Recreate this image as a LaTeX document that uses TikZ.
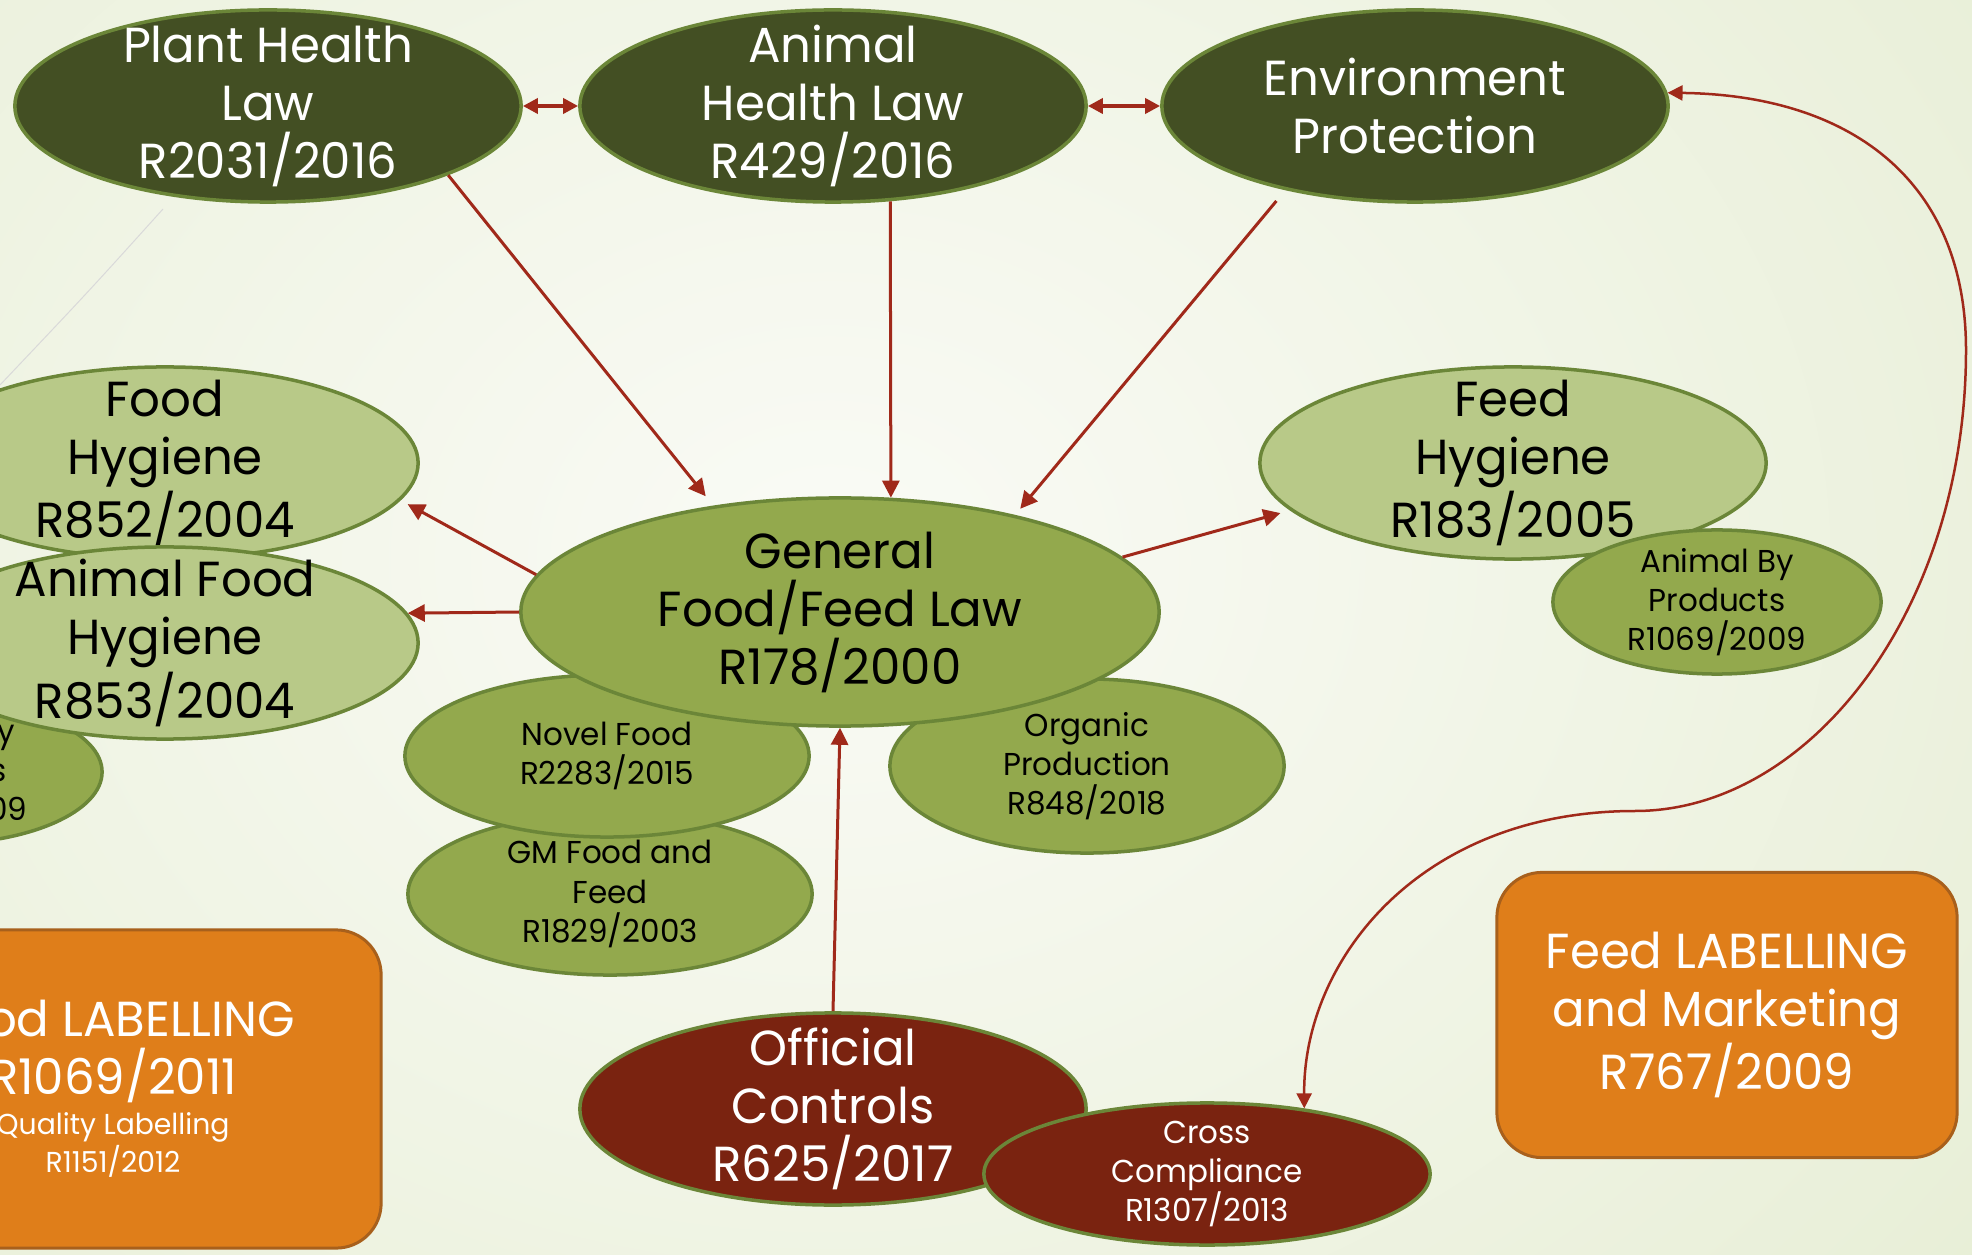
\documentclass[tikz,border=0pt]{standalone}
\usepackage{fontspec}
\setmainfont[FakeStretch=0.98]{Poppins}
\usetikzlibrary{shapes.geometric,arrows.meta}

\definecolor{olivedark}{HTML}{434F23}
\definecolor{lawgreen}{HTML}{93A94D}
\definecolor{palegreen}{HTML}{B8C988}
\definecolor{rimgreen}{HTML}{6B8638}
\definecolor{ctrlred}{HTML}{7A2310}
\definecolor{labelorange}{HTML}{DF7E1A}
\definecolor{labelrim}{HTML}{A8601C}
\definecolor{linkred}{HTML}{A0291A}
\definecolor{bgcentre}{HTML}{FAFBF6}
\definecolor{bgedge}{HTML}{E1EACB}

\newcommand{\bigtext}{\fontsize{14}{16.5}\selectfont}
\newcommand{\smalltext}{\fontsize{9}{11.1}\selectfont}
\newcommand{\tinytext}{\fontsize{8.2}{10.8}\selectfont}

\tikzset{
  law/.style={ellipse, draw=rimgreen, line width=0.035cm, inner sep=0pt,
    minimum width=5.06cm, minimum height=1.92cm},
  toplaw/.style={law, fill=olivedark},
  hygiene/.style={law, fill=palegreen},
  sublaw/.style={law, fill=lawgreen},
  ctrl/.style={law, fill=ctrlred},
  wbig/.style={text=white, align=center, font=\bigtext},
  bbig/.style={text=black, align=center, font=\bigtext},
  bsmall/.style={text=black, align=center, font=\smalltext},
  wsmall/.style={text=white, align=center, font=\smalltext},
  labelbox/.style={rectangle, draw=labelrim, fill=labelorange, line width=0.03cm,
    rounded corners=0.45cm, text=white, align=center, font=\bigtext},
  link/.style={draw=linkred, line width=0.03cm,
    -{Triangle[length=0.17cm,width=0.17cm]}},
  twoway/.style={draw=linkred, line width=0.04cm,
    {Triangle[length=0.15cm,width=0.15cm]}-{Triangle[length=0.15cm,width=0.15cm]}}
}

\begin{document}
\begin{tikzpicture}[x=0.01cm,y=-0.01cm]
  \useasboundingbox (0,0) rectangle (1972,1255);
  \clip (0,0) rectangle (1972,1255);

  % slide background
  \shade[inner color=bgcentre, outer color=bgedge] (-1170,-1040) rectangle (2830,2160);
  \draw[gray!30, line width=0.01cm] (163,209) .. controls (90,290) .. (0,385);

  % top row
  \node[toplaw, label={[wbig]center:Plant Health\\Law\\R2031/2016}] (plant) at (268,106) {};
  \node[toplaw, label={[wbig]center:Animal\\Health Law\\R429/2016}] (animal) at (833,106) {};
  \node[toplaw, label={[wbig]center:Environment\\Protection}] (env) at (1415,106) {};

  % left side
  \node[sublaw, minimum width=3.28cm, minimum height=1.44cm,
    label={[bsmall]center:Animal By\\Products\\R1069/2009}] (abpleft) at (-62,772) {};
  \node[hygiene, label={[bbig]center:Food\\Hygiene\\R852/2004}] (fhyg) at (165,463) {};
  \node[hygiene, label={[bbig]center:Animal Food\\Hygiene\\R853/2004}] (afhyg) at (165,643) {};

  % right side
  \node[hygiene, label={[bbig]center:Feed\\Hygiene\\R183/2005}] (feedhyg) at (1513,463) {};
  \node[sublaw, minimum width=3.28cm, minimum height=1.44cm,
    label={[bsmall]center:Animal By\\Products\\R1069/2009}] (abp) at (1717,602) {};

  % centre
  \node[sublaw, minimum width=4.04cm, minimum height=1.62cm,
    label={[bsmall]center:GM Food and\\Feed\\R1829/2003}] (gm) at (610,894) {};
  \node[sublaw, minimum width=4.04cm, minimum height=1.62cm,
    label={[bsmall]center:Novel Food\\R2283/2015}] (novel) at (607,756) {};
  \node[sublaw, minimum width=3.94cm, minimum height=1.74cm,
    label={[bsmall]center:Organic\\Production\\R848/2018}] (organic) at (1087,766) {};
  \node[sublaw, minimum width=6.38cm, minimum height=2.28cm,
    label={[bbig]center:General\\Food/Feed Law\\R178/2000}] (gen) at (840,612) {};

  % controls
  \node[ctrl, label={[wbig]center:Official\\Controls\\R625/2017}] (official) at (833,1109) {};
  \node[ctrl, minimum width=4.46cm, minimum height=1.42cm,
    label={[wsmall]center:Cross\\Compliance\\R1307/2013}] (cross) at (1207,1174) {};

  % labelling boxes
  \node[labelbox, minimum width=5.36cm, minimum height=3.18cm] (foodlab) at (113,1089)
    {Food LABELLING\\R1069/2011\\[-5.1pt]\tinytext Quality Labelling\\[-5.7pt]\tinytext R1151/2012};
  \node[labelbox, minimum width=4.60cm, minimum height=2.85cm] (feedlab) at (1727,1015)
    {Feed LABELLING\\and Marketing\\R767/2009};

  % links
  \draw[twoway] (plant.east) -- (animal.west);
  \draw[twoway] (animal.east) -- (env.west);
  \draw[link, shorten >=0.12cm] (plant.-21) -- (gen.140);
  \draw[link] (animal.-59) -- (gen.66);
  \draw[link, shorten <=0.14cm, shorten >=0.08cm] (env.-147) -- (gen.29);
  \draw[link, shorten >=0.08cm] (gen.173) -- (fhyg.-9);
  \draw[link] (gen.west) -- (afhyg.7.4);
  \draw[link, shorten >=0.1cm] (gen.11) -- (feedhyg.192);
  \draw[link] (official.north) -- (gen.south);
  \draw[draw=linkred, line width=0.025cm,
    {Triangle[length=0.15cm,width=0.15cm]}-{Triangle[length=0.15cm,width=0.15cm]}]
    (env.3.5) .. controls (1850,95) and (1966,180) .. (1966,350)
    .. controls (1966,610) and (1810,811) .. (1635,811)
    .. controls (1420,811) and (1303,960) .. (cross.34);
\end{tikzpicture}
\end{document}
